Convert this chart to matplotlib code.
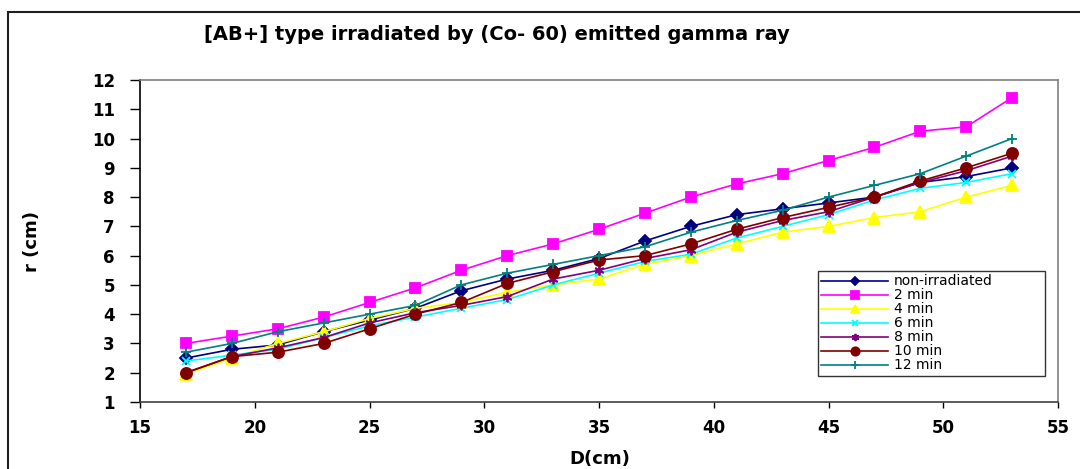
import matplotlib
matplotlib.use("Agg")
import matplotlib.pyplot as plt
from matplotlib.patches import Rectangle

plt.rcParams['font.family'] = ['DejaVu Sans']

D = [17, 19, 21, 23, 25, 27, 29, 31, 33, 35, 37, 39, 41, 43, 45, 47, 49, 51, 53]

non_irradiated = [2.5, 2.8, 2.95, 3.4, 3.8, 4.2, 4.8, 5.2, 5.5, 5.9, 6.5, 7.0, 7.4, 7.6, 7.8, 8.0, 8.5, 8.7, 9.0]
min2 = [3.0, 3.25, 3.5, 3.9, 4.4, 4.9, 5.5, 6.0, 6.4, 6.9, 7.45, 8.0, 8.45, 8.8, 9.25, 9.7, 10.25, 10.4, 11.4]
min4 = [1.95, 2.5, 3.0, 3.4, 3.85, 4.2, 4.4, 4.75, 5.0, 5.2, 5.7, 6.0, 6.4, 6.8, 7.0, 7.3, 7.5, 8.0, 8.4]
min6 = [2.4, 2.6, 2.8, 3.2, 3.6, 3.9, 4.2, 4.5, 5.0, 5.4, 5.8, 6.05, 6.6, 7.0, 7.4, 7.9, 8.3, 8.5, 8.8]
min8 = [2.0, 2.55, 2.85, 3.2, 3.7, 4.05, 4.3, 4.6, 5.2, 5.5, 5.9, 6.2, 6.8, 7.2, 7.5, 8.0, 8.5, 8.9, 9.4]
min10 = [2.0, 2.55, 2.7, 3.0, 3.5, 4.0, 4.4, 5.05, 5.45, 5.85, 6.0, 6.4, 6.9, 7.3, 7.65, 8.0, 8.55, 9.0, 9.5]
min12 = [2.7, 3.0, 3.4, 3.7, 4.0, 4.3, 5.0, 5.4, 5.7, 6.0, 6.3, 6.8, 7.2, 7.55, 8.0, 8.4, 8.8, 9.4, 10.0]

labels = ['non-irradiated', '2 min', '4 min', '6 min', '8 min', '10 min', '12 min']
series = [non_irradiated, min2, min4, min6, min8, min10, min12]
colors = ['#000080', '#FF00FF', '#FFFF00', '#00FFFF', '#800080', '#800000', '#008080']
markers = ['D', 's', '^', 'x', (6, 2, 0), 'o', '+']
msizes = [6, 7, 8, 6, 7, 8, 7]

x_ticks = [15, 20, 25, 30, 35, 40, 45, 50, 55]
y_ticks = list(range(1, 13))

fig = plt.figure(figsize=(10.8, 4.69), dpi=100)
ax = fig.add_axes([140/1080, 1-402/469, (1058-140)/1080, (402-80)/469])

for vals, lab, c, m, ms in zip(series, labels, colors, markers, msizes):
    ax.plot(D, vals, color=c, marker=m, markersize=ms, linewidth=1.2,
            markeredgecolor=c, markerfacecolor=c, markeredgewidth=1.3, label=lab)

ax.set_xlim(15, 55)
ax.set_ylim(1, 12)
ax.set_xticks(x_ticks)
ax.set_yticks(y_ticks)
ax.tick_params(axis='x', direction='out', length=4, width=1, labelsize=12, pad=8)
ax.tick_params(axis='y', direction='out', length=7, width=1, labelsize=12, pad=11)
for t in ax.get_xticklabels() + ax.get_yticklabels():
    t.set_fontweight('bold')
ax.spines['top'].set_color('#808080')
ax.spines['right'].set_color('#808080')
ax.spines['left'].set_color('black')
ax.spines['bottom'].set_color('#404040')
for s in ax.spines.values():
    s.set_linewidth(1.2)

ax.set_xlabel('D(cm)', fontsize=13, fontweight='bold')
ax.set_ylabel('r (cm)', fontsize=13, fontweight='bold')
ax.xaxis.set_label_coords(0.501, -0.150)
ax.yaxis.set_label_coords(-0.108, 0.5)

fig.text(497/1080, 1-34/469, '[AB+] type irradiated by (Co- 60) emitted gamma ray',
         ha='center', va='center', fontsize=14, fontweight='bold')

leg = ax.legend(loc='upper left',
                bbox_to_anchor=((818-140)/918, 1-(271-80)/322 - 0.3, 227/918, 0.3),
                mode='expand', fontsize=10, frameon=True, fancybox=False, edgecolor='black',
                borderpad=0.25, labelspacing=0.0, handlelength=4.8, handletextpad=0.4,
                borderaxespad=0, markerscale=0.75)
leg.get_frame().set_linewidth(1.0)

fig.add_artist(Rectangle((8/1080, -0.1), 1.2, 1.1 - 12/469, transform=fig.transFigure,
                         fill=False, edgecolor='#202020', linewidth=1.5))

fig.savefig('out.png', dpi=100)
